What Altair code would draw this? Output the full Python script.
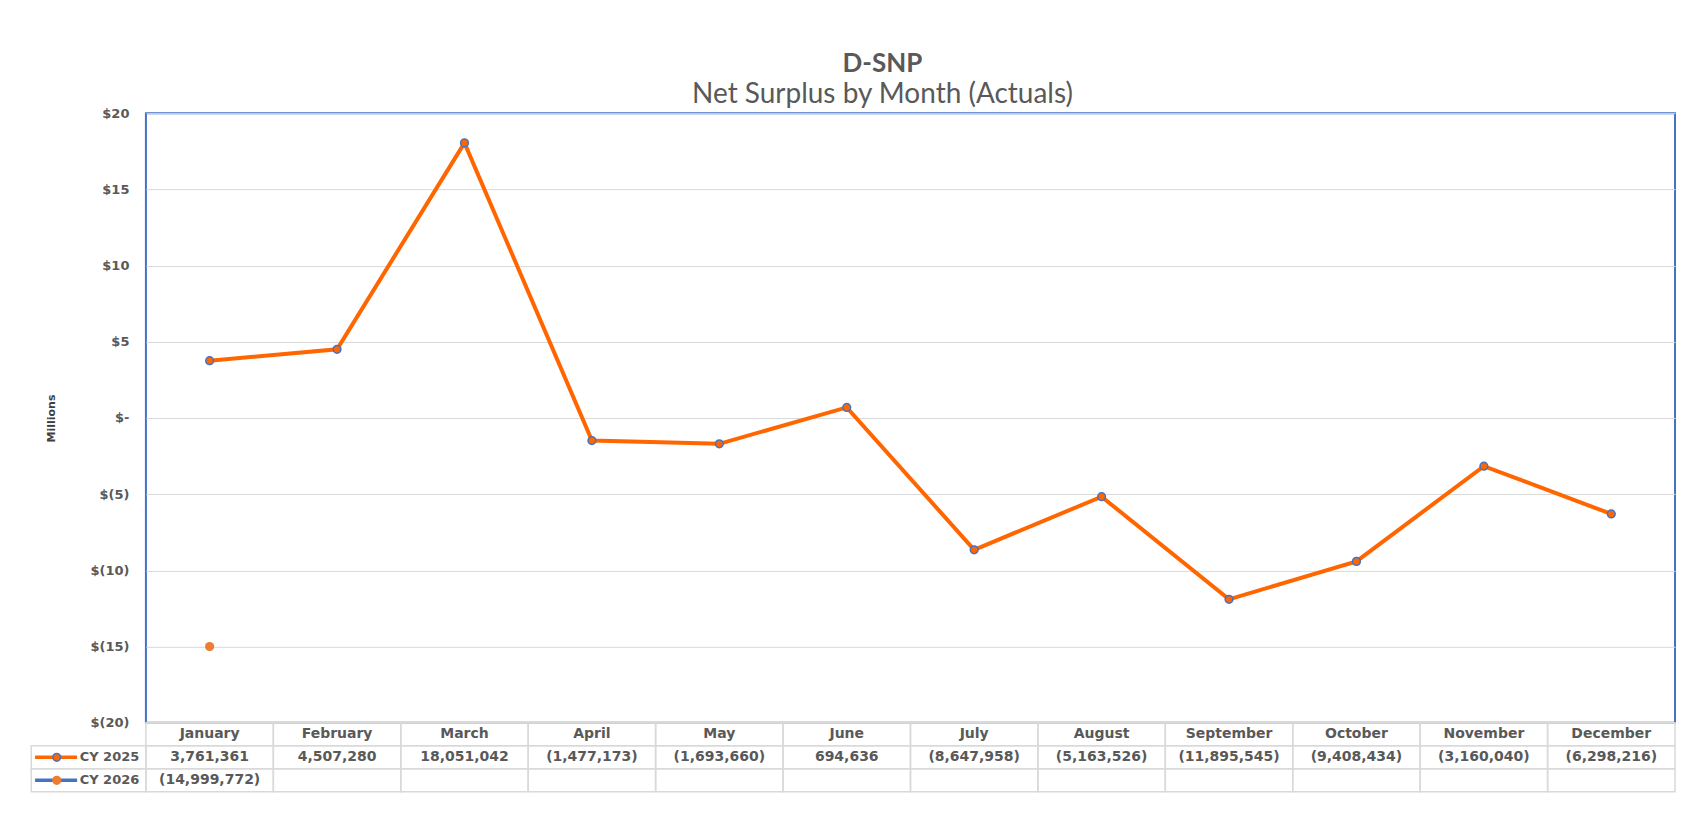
import altair as alt
import pandas as pd

# ---------------- data ----------------
months = ["January", "February", "March", "April", "May", "June", "July",
          "August", "September", "October", "November", "December"]
series_names = ["CY 2025", "CY 2026"]
cy2025 = [3761361, 4507280, 18051042, -1477173, -1693660, 694636,
          -8647958, -5163526, -11895545, -9408434, -3160040, -6298216]
cy2026 = [-14999772]
y_ticks = [-20, -15, -10, -5, 0, 5, 10, 15, 20]

# ---------------- style ----------------
ORANGE = "#ff6600"
BLUE = "#4472c4"
DOT_ORANGE = "#ed7d31"
TEXT = "#595959"
GRID = "#d9d9d9"
FONT = "DejaVu Sans"
TITLE_FONT = "Lato"
W, H = 1530, 610
ROW_H = 23
N_ROWS = 3
LEG_W = 0.9  # legend column width in month-column units

# ---------------- tables ----------------
line_df = pd.DataFrame({"month": months, "value": cy2025, "series": series_names[0]})
dot_df = pd.DataFrame({"month": months[:len(cy2026)], "value": cy2026, "series": series_names[1]})

cells = []
for i, _ in enumerate(months):
    for r in range(N_ROWS):
        cells.append({"x0": i, "x1": i + 1, "y0": r, "y1": r + 1})
for r in range(1, N_ROWS):
    cells.append({"x0": -LEG_W, "x1": 0, "y0": r, "y1": r + 1})
cells_df = pd.DataFrame(cells)

header_df = pd.DataFrame({"xc": [i + 0.5 for i in range(len(months))],
                          "yc": 0.5, "label": months})
vals = []
for r, arr in enumerate([cy2025, cy2026], start=1):
    for i, v in enumerate(arr):
        vals.append({"xc": i + 0.5, "yc": r + 0.5, "value": v})
vals_df = pd.DataFrame(vals)

leg_df = pd.DataFrame({
    "series": series_names,
    "yc": [1.5, 2.5],
    "lx0": -0.87, "lx1": -0.54, "px": -0.70, "tx": -0.52,
    "line_color": [ORANGE, BLUE],
    "dot_fill": [ORANGE, DOT_ORANGE],
    "dot_stroke": [BLUE, DOT_ORANGE],
})

# ---------------- main plot ----------------
x_pt = alt.X("month:N", sort=months,
             scale=alt.Scale(type="point", padding=0.5, domain=months), axis=None)
y_scale = alt.Scale(domain=[-20, 20], nice=False, zero=False)
y_axis = alt.Axis(values=y_ticks, title="Millions",
                  labelExpr="datum.value == 0 ? '$-' : (datum.value < 0 ? '$(' + abs(datum.value) + ')' : '$' + datum.value)",
                  labelFont=FONT, labelFontSize=13, labelFontWeight="bold", labelColor=TEXT,
                  labelPadding=17, ticks=False, domain=False,
                  grid=True, gridColor=GRID, gridWidth=1,
                  titleFont=FONT, titleFontSize=11, titleFontWeight="bold", titleColor="#404040",
                  titlePadding=33)
y_enc = alt.Y("m:Q", scale=y_scale, axis=y_axis)

line = alt.Chart(line_df).transform_calculate(m="datum.value / 1000000").mark_line(
    color=ORANGE, strokeWidth=4).encode(x=x_pt, y=y_enc)
pts = alt.Chart(line_df).transform_calculate(m="datum.value / 1000000").mark_point(
    filled=True, fill=ORANGE, stroke=BLUE, strokeWidth=1.5, size=60, opacity=1).encode(
    x=x_pt, y=y_enc)
dot = alt.Chart(dot_df).transform_calculate(m="datum.value / 1000000").mark_point(
    filled=True, fill=DOT_ORANGE, size=85, opacity=1).encode(
    x=x_pt, y=y_enc)
main = alt.layer(line, pts, dot)

# ---------------- data table ----------------
tx = alt.Scale(domain=[0, len(months)], nice=False, zero=False)
ty = alt.Scale(domain=[0, N_ROWS], range=[H, H + N_ROWS * ROW_H], nice=False, zero=False)
TFS = 14

grid_rects = alt.Chart(cells_df).mark_rect(fillOpacity=0, stroke=GRID, strokeWidth=1.5).encode(
    x=alt.X("x0:Q", scale=tx, axis=None), x2="x1:Q",
    y=alt.Y("y0:Q", scale=ty, axis=None), y2="y1:Q")
header_txt = alt.Chart(header_df).mark_text(
    font=FONT, fontSize=TFS, fontWeight="bold", color=TEXT, baseline="middle").encode(
    x=alt.X("xc:Q", scale=tx, axis=None), y=alt.Y("yc:Q", scale=ty, axis=None), text="label:N")
vals_txt = alt.Chart(vals_df).mark_text(
    font=FONT, fontSize=TFS, fontWeight="bold", color=TEXT, baseline="middle").encode(
    x=alt.X("xc:Q", scale=tx, axis=None), y=alt.Y("yc:Q", scale=ty, axis=None),
    text=alt.Text("value:Q", format="(,.0f"))
leg_line = alt.Chart(leg_df).mark_rule(strokeWidth=3.5).encode(
    x=alt.X("lx0:Q", scale=tx, axis=None), x2="lx1:Q",
    y=alt.Y("yc:Q", scale=ty, axis=None),
    color=alt.Color("line_color:N", scale=None))
leg_dot = alt.Chart(leg_df).mark_point(filled=True, size=60, strokeWidth=1.5, opacity=1).encode(
    x=alt.X("px:Q", scale=tx, axis=None), y=alt.Y("yc:Q", scale=ty, axis=None),
    fill=alt.Fill("dot_fill:N", scale=None), stroke=alt.Stroke("dot_stroke:N", scale=None))
leg_txt = alt.Chart(leg_df).mark_text(
    font=FONT, fontSize=13, fontWeight="bold", color=TEXT, baseline="middle", align="left").encode(
    x=alt.X("tx:Q", scale=tx, axis=None), y=alt.Y("yc:Q", scale=ty, axis=None), text="series:N")

table = alt.layer(grid_rects, header_txt, vals_txt, leg_line, leg_dot, leg_txt)

chart = alt.layer(main, table).resolve_scale(x="independent", y="independent").properties(
    width=W, height=H,
    padding={"left": 22, "top": 43, "right": 10, "bottom": 10},
    background="white",
    title=alt.TitleParams(text="D-SNP", subtitle="Net Surplus by Month (Actuals)",
                          anchor="middle", dx=-28, font=TITLE_FONT, fontSize=26, fontWeight="bold",
                          color=TEXT, subtitleFont=TITLE_FONT, subtitleFontSize=28,
                          subtitleColor=TEXT, subtitlePadding=4, offset=-2),
).configure_view(stroke=BLUE, strokeWidth=2)

chart.save("out.html", embed_options={"renderer": "svg", "actions": False})
